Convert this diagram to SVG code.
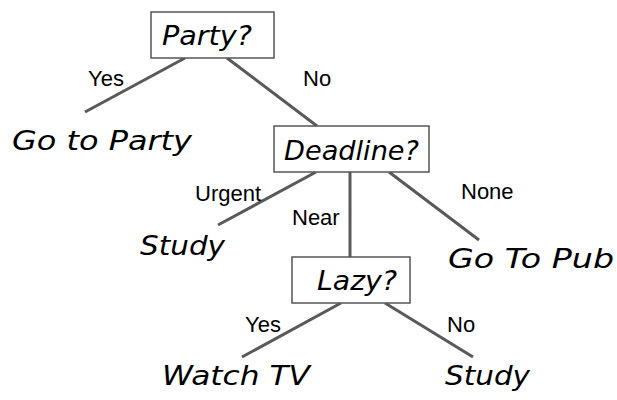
<svg xmlns="http://www.w3.org/2000/svg" width="617" height="400" viewBox="0 0 617 400">
<style>
.box{fill:#fff;stroke:#555;stroke-width:1.5}
.hand{font-family:"DejaVu Sans","Liberation Sans",sans-serif;font-style:italic;font-weight:300;font-size:27px;fill:#000}
.lbl{font-family:"Liberation Sans",Arial,sans-serif;font-size:22px;fill:#000}
.edge{stroke:#595959;stroke-width:3;fill:none}
</style>
<rect width="617" height="400" fill="#fff"/>
<g id="connectors">
<line class="edge" x1="185" y1="58" x2="85" y2="112"/>
<line class="edge" x1="227" y1="58" x2="317" y2="126"/>
<line class="edge" x1="316" y1="172" x2="218" y2="225"/>
<line class="edge" x1="350" y1="172" x2="350" y2="258"/>
<line class="edge" x1="389" y1="172" x2="479" y2="240"/>
<line class="edge" x1="341" y1="303" x2="242" y2="357"/>
<line class="edge" x1="385" y1="303" x2="473" y2="357"/>
<text class="lbl" x="88" y="86">Yes</text>
<text class="lbl" x="303" y="86">No</text>
<text class="lbl" x="195" y="201">Urgent</text>
<text class="lbl" x="292" y="225">Near</text>
<text class="lbl" x="461" y="199">None</text>
<text class="lbl" x="245" y="332">Yes</text>
<text class="lbl" x="447" y="332">No</text>
</g>
<g id="party">
<rect class="box" x="151" y="12" width="123" height="46"/>
<text class="hand" x="162" y="45" textLength="90" lengthAdjust="spacingAndGlyphs">Party?</text>
</g>
<g id="goparty">
<text class="hand" x="12" y="150" textLength="180" lengthAdjust="spacingAndGlyphs">Go to Party</text>
</g>
<g id="deadline">
<rect class="box" x="274" y="126" width="155" height="46"/>
<text class="hand" x="284" y="160" textLength="135" lengthAdjust="spacingAndGlyphs">Deadline?</text>
</g>
<g id="study1">
<text class="hand" x="140" y="255" textLength="85" lengthAdjust="spacingAndGlyphs">Study</text>
</g>
<g id="pub">
<text class="hand" x="448" y="268" textLength="166" lengthAdjust="spacingAndGlyphs">Go To Pub</text>
</g>
<g id="lazy">
<rect class="box" x="292" y="257" width="118" height="46"/>
<text class="hand" x="317" y="290" textLength="80" lengthAdjust="spacingAndGlyphs">Lazy?</text>
</g>
<g id="tv">
<text class="hand" x="162" y="385" textLength="148" lengthAdjust="spacingAndGlyphs">Watch TV</text>
</g>
<g id="study2">
<text class="hand" x="445" y="385" textLength="85" lengthAdjust="spacingAndGlyphs">Study</text>
</g>
</svg>
